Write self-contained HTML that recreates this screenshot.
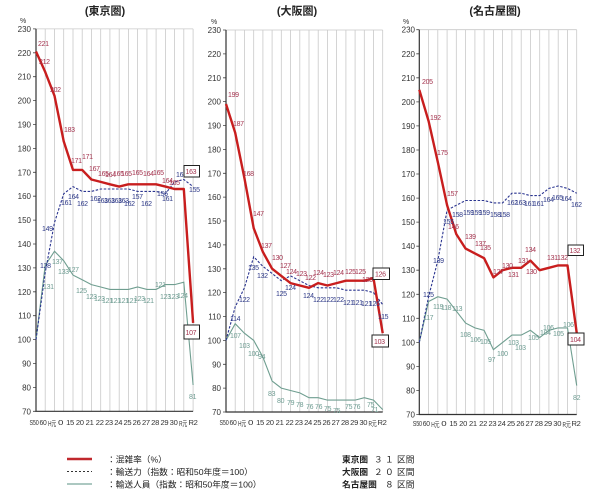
<!DOCTYPE html>
<html><head><meta charset="utf-8">
<style>
html,body{margin:0;padding:0;background:#fff;}
svg{display:block;}
text{font-family:"Liberation Sans","Noto Sans CJK JP",sans-serif;}
.yt{font-size:8px;fill:#333;text-anchor:end;}
.xt{font-size:7.6px;fill:#333;text-anchor:middle;letter-spacing:-0.3px;}
.g{stroke:#c9c9c9;stroke-width:0.8;fill:none;}
.ax{stroke:#333;stroke-width:1.2;fill:none;}
.tk{stroke:#444;stroke-width:0.8;fill:none;}
.r{stroke:#c81e1e;stroke-width:2.4;fill:none;stroke-linejoin:round;}
.b{stroke:#2b3590;stroke-width:1.1;fill:none;stroke-dasharray:2.5 1.6;}
.gr{stroke:#6f9e90;stroke-width:1.1;fill:none;}
.lr{font-size:7px;fill:#a4344f;letter-spacing:-0.3px;}
.lb{font-size:7px;fill:#2e3a88;letter-spacing:-0.3px;}
.lg{font-size:7px;fill:#6e9c92;letter-spacing:-0.3px;}
.bx{fill:#fff;stroke:#222;stroke-width:1;}
.tt{font-size:11px;fill:#222;text-anchor:middle;font-weight:bold;}
.lt{font-size:8.7px;fill:#222;}
.pc{font-size:7px;fill:#333;}
</style></head><body>
<svg width="600" height="494" viewBox="0 0 600 494" xmlns="http://www.w3.org/2000/svg">
<rect x="0" y="0" width="600" height="494" fill="#fff"/>

<!-- Titles -->
<text class="tt" x="105" y="14.7">(東京圏)</text>
<text class="tt" x="297" y="14.7">(大阪圏)</text>
<text class="tt" x="495" y="14.7">(名古屋圏)</text>

<!-- ===== Tokyo ===== -->
<path class="g" d="M45.2 28.9V411.3M54.5 28.9V411.3M63.7 28.9V411.3M73 28.9V411.3M82.2 28.9V411.3M91.4 28.9V411.3M100.7 28.9V411.3M109.9 28.9V411.3M119.2 28.9V411.3M128.4 28.9V411.3M137.6 28.9V411.3M146.9 28.9V411.3M156.1 28.9V411.3M165.4 28.9V411.3M174.6 28.9V411.3M183.8 28.9V411.3M193.1 28.9V411.3M36 28.9H193.1"/>
<path class="tk" d="M33 411.3H36M33 387.4H36M33 363.5H36M33 339.6H36M33 315.7H36M33 291.8H36M33 267.9H36M33 244H36M33 220.1H36M33 196.2H36M33 172.3H36M33 148.4H36M33 124.5H36M33 100.6H36M33 76.7H36M33 52.8H36M33 28.9H36"/>
<path class="ax" d="M36 28.9V411.3H193.1"/>
<text class="pc" x="20" y="23">%</text>
<text class="yt" x="31" y="414.3">70</text>
<text class="yt" x="31" y="390.4">80</text>
<text class="yt" x="31" y="366.5">90</text>
<text class="yt" x="31" y="342.6">100</text>
<text class="yt" x="31" y="318.7">110</text>
<text class="yt" x="31" y="294.8">120</text>
<text class="yt" x="31" y="270.9">130</text>
<text class="yt" x="31" y="247">140</text>
<text class="yt" x="31" y="223.1">150</text>
<text class="yt" x="31" y="199.2">160</text>
<text class="yt" x="31" y="175.3">170</text>
<text class="yt" x="31" y="151.4">180</text>
<text class="yt" x="31" y="127.5">190</text>
<text class="yt" x="31" y="103.6">200</text>
<text class="yt" x="31" y="79.7">210</text>
<text class="yt" x="31" y="55.8">220</text>
<text class="yt" x="31" y="31.9">230</text>

<polyline class="gr" points="36,339.6 45.2,265.5 54.5,251.2 63.7,260.7 73,275.1 82.2,279.8 91.4,284.6 100.7,287 109.9,289.4 119.2,289.4 128.4,289.4 137.6,287 146.9,289.4 156.1,289.4 165.4,284.6 174.6,284.6 183.8,282.2 193.1,385"/>
<polyline class="b" points="36,339.6 45.2,272.7 54.5,222.5 63.7,193.8 73,186.6 82.2,191.4 91.4,191.4 100.7,189 109.9,189 119.2,189 128.4,189 137.6,191.4 146.9,191.4 156.1,191.4 165.4,193.8 174.6,181.9 183.8,179.5 193.1,186.6"/>
<polyline class="r" points="36,51.5 45.2,71.9 54.5,95.8 63.7,141.2 73,169.9 82.2,169.9 91.4,179.5 100.7,181.9 109.9,184.3 119.2,186.6 128.4,184.3 137.6,184.3 146.9,184.3 156.1,184.3 165.4,186.6 174.6,189 183.8,189 193.1,322.9"/>

<g class="lr">
<text x="38" y="46">221</text><text x="39" y="64">212</text><text x="50" y="92">202</text><text x="64" y="132">183</text>
<text x="71" y="163">171</text><text x="82" y="159">171</text><text x="89" y="171">167</text><text x="98" y="176">165</text>
<text x="105" y="177">164</text><text x="113" y="176">165</text><text x="121" y="176">165</text><text x="132" y="175">165</text>
<text x="143" y="176">164</text><text x="153" y="175">165</text><text x="162" y="183">164</text><text x="169" y="185">165</text>
</g>
<g class="lb">
<text x="42" y="231">149</text><text x="40" y="268">128</text><text x="61" y="205">161</text><text x="68" y="199">164</text>
<text x="77" y="206">162</text><text x="90" y="201">162</text><text x="97" y="203">163</text><text x="104" y="203">163</text>
<text x="111" y="203">163</text><text x="118" y="203">163</text><text x="124" y="206">162</text><text x="132" y="199">157</text>
<text x="141" y="206">162</text><text x="157" y="196">156</text><text x="162" y="201">161</text><text x="176" y="177">167</text>
<text x="189" y="192">155</text>
</g>
<g class="lg">
<text x="43" y="289">131</text><text x="52" y="264">137</text><text x="58" y="274">133</text><text x="68" y="272">127</text>
<text x="76" y="293">125</text><text x="86" y="299">123</text><text x="94" y="301">123</text><text x="102" y="303">121</text>
<text x="110" y="303">121</text><text x="118" y="303">121</text><text x="126" y="303">121</text><text x="134" y="301">123</text>
<text x="143" y="303">121</text><text x="155" y="287">121</text><text x="160" y="299">123</text><text x="168" y="299">123</text>
<text x="177" y="298">124</text><text x="189" y="399">81</text>
</g>
<rect class="bx" x="184" y="165.5" width="15.5" height="11.5"/>
<text class="lr" x="185.5" y="174">163</text>
<rect class="bx" x="184" y="325" width="15.5" height="14"/>
<text class="lr" x="185.5" y="335">107</text>

<g class="xt">
<text x="34" y="425" textLength="9" lengthAdjust="spacingAndGlyphs">S50</text>
<text x="43" y="425" textLength="7" lengthAdjust="spacingAndGlyphs">60</text>
<text x="52" y="426" textLength="8" lengthAdjust="spacingAndGlyphs">H元</text>
<text x="60.5" y="425" textLength="5" lengthAdjust="spacingAndGlyphs">0</text>
<text x="70" y="425">15</text><text x="79.8" y="425">20</text><text x="89.6" y="425">21</text>
<text x="99.7" y="425">22</text><text x="108.9" y="425">23</text><text x="118.2" y="425">24</text>
<text x="127.4" y="425">25</text><text x="136.6" y="425">26</text><text x="145.9" y="425">27</text>
<text x="155.1" y="425">28</text><text x="164.4" y="425">29</text><text x="173.6" y="425">30</text>
<text x="183" y="426" textLength="8" lengthAdjust="spacingAndGlyphs">R元</text>
<text x="193" y="425">R2</text>
</g>

<!-- ===== Osaka ===== -->
<path class="g" d="M235.2 30V412M244.4 30V412M253.7 30V412M262.9 30V412M272.1 30V412M281.3 30V412M290.5 30V412M299.8 30V412M309 30V412M318.2 30V412M327.4 30V412M336.6 30V412M345.9 30V412M355.1 30V412M364.3 30V412M373.5 30V412M382.7 30V412M226 30H382.7"/>
<path class="tk" d="M223 412H226M223 388.1H226M223 364.3H226M223 340.4H226M223 316.5H226M223 292.6H226M223 268.8H226M223 244.9H226M223 221H226M223 197.1H226M223 173.3H226M223 149.4H226M223 125.5H226M223 101.6H226M223 77.8H226M223 53.9H226M223 30H226"/>
<path class="ax" d="M226 30V412H382.7"/>
<text class="pc" x="211" y="24">%</text>
<text class="yt" x="221" y="415">70</text>
<text class="yt" x="221" y="391.1">80</text>
<text class="yt" x="221" y="367.3">90</text>
<text class="yt" x="221" y="343.4">100</text>
<text class="yt" x="221" y="319.5">110</text>
<text class="yt" x="221" y="295.6">120</text>
<text class="yt" x="221" y="271.8">130</text>
<text class="yt" x="221" y="247.9">140</text>
<text class="yt" x="221" y="224">150</text>
<text class="yt" x="221" y="200.1">160</text>
<text class="yt" x="221" y="176.3">170</text>
<text class="yt" x="221" y="152.4">180</text>
<text class="yt" x="221" y="128.5">190</text>
<text class="yt" x="221" y="104.6">200</text>
<text class="yt" x="221" y="80.8">210</text>
<text class="yt" x="221" y="56.9">220</text>
<text class="yt" x="221" y="33">230</text>

<polyline class="gr" points="226,340.4 235.2,323.7 244.4,333.2 253.7,340.4 262.9,357.1 272.1,381 281.3,388.1 290.5,390.5 299.8,392.9 309,397.7 318.2,397.7 327.4,400.1 336.6,400.1 345.9,400.1 355.1,400.1 364.3,397.7 373.5,400.1 382.7,409.6"/>
<polyline class="b" points="226,340.4 235.2,306.9 244.4,287.8 253.7,256.8 262.9,266.4 272.1,273.5 281.3,280.7 290.5,275.9 299.8,280.7 309,285.5 318.2,287.8 327.4,287.8 336.6,287.8 345.9,290.2 355.1,290.2 364.3,290.2 373.5,292.6 382.7,304.6"/>
<polyline class="r" points="226,104 235.2,132.7 244.4,178 253.7,228.2 262.9,252 272.1,268.7 281.3,275.9 290.5,283.1 299.8,285.5 309,287.8 318.2,283.1 327.4,285.5 336.6,283.1 345.9,280.7 355.1,280.7 364.3,280.7 373.5,278.3 382.7,333.2"/>

<g class="lr">
<text x="228" y="97">199</text><text x="233" y="126">187</text><text x="243" y="176">168</text><text x="253" y="216">147</text>
<text x="261" y="248">137</text><text x="272" y="260">130</text><text x="280" y="268">127</text><text x="286" y="274">124</text>
<text x="296" y="276">123</text><text x="305" y="280">122</text><text x="313" y="275">124</text><text x="323" y="277">123</text>
<text x="333" y="275">124</text><text x="345" y="274">125</text><text x="355" y="274">125</text><text x="362" y="282">125</text>
</g>
<g class="lb">
<text x="230" y="321">114</text><text x="239" y="302">122</text><text x="248" y="270">135</text><text x="257" y="278">132</text>
<text x="276" y="296">125</text><text x="285" y="290">124</text><text x="303" y="298">124</text><text x="313" y="302">122</text>
<text x="323" y="302">122</text><text x="333" y="302">122</text><text x="343" y="305">121</text><text x="352" y="305">121</text>
<text x="361" y="306">121</text><text x="369" y="306">126</text><text x="378" y="319">115</text>
</g>
<g class="lg">
<text x="230" y="338">107</text><text x="239" y="348">103</text><text x="248" y="356">100</text><text x="258" y="359">94</text>
<text x="268" y="396">83</text><text x="277" y="403">80</text><text x="287" y="405">79</text><text x="296" y="407">78</text>
<text x="306" y="409">76</text><text x="315" y="409">76</text><text x="324" y="411">75</text><text x="333" y="413">75</text>
<text x="345" y="409">75</text><text x="353" y="409">76</text><text x="367" y="407">75</text><text x="371" y="412">71</text>
</g>
<rect class="bx" x="373" y="268" width="16.5" height="11.5"/>
<text class="lr" x="375" y="276.5">126</text>
<rect class="bx" x="372" y="335" width="16.5" height="12"/>
<text class="lr" x="374" y="344">103</text>

<g class="xt">
<text x="224" y="425" textLength="9" lengthAdjust="spacingAndGlyphs">S50</text>
<text x="233" y="425" textLength="7" lengthAdjust="spacingAndGlyphs">60</text>
<text x="242" y="426" textLength="8" lengthAdjust="spacingAndGlyphs">H元</text>
<text x="250.5" y="425" textLength="5" lengthAdjust="spacingAndGlyphs">0</text>
<text x="260" y="425">15</text><text x="269.8" y="425">20</text><text x="279.6" y="425">21</text>
<text x="289.5" y="425">22</text><text x="298.8" y="425">23</text><text x="308" y="425">24</text>
<text x="317.2" y="425">25</text><text x="326.4" y="425">26</text><text x="335.6" y="425">27</text>
<text x="344.9" y="425">28</text><text x="354.1" y="425">29</text><text x="363.3" y="425">30</text>
<text x="372.5" y="426" textLength="8" lengthAdjust="spacingAndGlyphs">R元</text>
<text x="382" y="425">R2</text>
</g>

<!-- ===== Nagoya ===== -->
<path class="g" d="M428.6 29.7V414.5M437.8 29.7V414.5M447.1 29.7V414.5M456.3 29.7V414.5M465.6 29.7V414.5M474.9 29.7V414.5M484.1 29.7V414.5M493.4 29.7V414.5M502.6 29.7V414.5M511.9 29.7V414.5M521.2 29.7V414.5M530.4 29.7V414.5M539.7 29.7V414.5M548.9 29.7V414.5M558.2 29.7V414.5M567.5 29.7V414.5M576.7 29.7V414.5M419.3 29.7H576.7"/>
<path class="tk" d="M416.3 414.5H419.3M416.3 390.5H419.3M416.3 366.4H419.3M416.3 342.4H419.3M416.3 318.3H419.3M416.3 294.3H419.3M416.3 270.2H419.3M416.3 246.2H419.3M416.3 222.1H419.3M416.3 198.1H419.3M416.3 174H419.3M416.3 150H419.3M416.3 125.9H419.3M416.3 101.9H419.3M416.3 77.8H419.3M416.3 53.8H419.3M416.3 29.7H419.3"/>
<path class="ax" d="M419.3 29.7V414.5H576.7"/>
<text class="pc" x="403" y="24">%</text>
<text class="yt" x="415" y="417.5">70</text>
<text class="yt" x="415" y="393.5">80</text>
<text class="yt" x="415" y="369.4">90</text>
<text class="yt" x="415" y="345.4">100</text>
<text class="yt" x="415" y="321.3">110</text>
<text class="yt" x="415" y="297.3">120</text>
<text class="yt" x="415" y="273.2">130</text>
<text class="yt" x="415" y="249.2">140</text>
<text class="yt" x="415" y="225.1">150</text>
<text class="yt" x="415" y="201.1">160</text>
<text class="yt" x="415" y="177">170</text>
<text class="yt" x="415" y="153">180</text>
<text class="yt" x="415" y="128.9">190</text>
<text class="yt" x="415" y="104.9">200</text>
<text class="yt" x="415" y="80.8">210</text>
<text class="yt" x="415" y="56.8">220</text>
<text class="yt" x="415" y="32.7">230</text>

<polyline class="gr" points="419.3,342.4 428.6,301.5 437.8,296.7 447.1,299.1 456.3,311.1 465.6,323.1 474.9,327.9 484.1,330.3 493.4,349.6 502.6,342.4 511.9,335.1 521.2,335.1 530.4,330.3 539.7,337.5 548.9,330.3 558.2,327.9 567.5,327.9 576.7,385.6"/>
<polyline class="b" points="419.3,342.4 428.6,296.7 437.8,260.6 447.1,210.1 456.3,205.3 465.6,200.5 474.9,200.5 484.1,200.5 493.4,202.9 502.6,202.9 511.9,193.2 521.2,193.2 530.4,195.6 539.7,195.6 548.9,188.4 558.2,186 567.5,188.4 576.7,193.2"/>
<polyline class="r" points="419.3,89.8 428.6,121.1 437.8,162 447.1,205.3 456.3,234.1 465.6,248.6 474.9,253.4 484.1,258.2 493.4,277.4 502.6,270.2 511.9,267.8 521.2,267.8 530.4,260.6 539.7,270.2 548.9,267.8 558.2,265.4 567.5,265.4 576.7,332.7"/>

<g class="lr">
<text x="422" y="84">205</text><text x="430" y="120">192</text><text x="437" y="155">175</text><text x="447" y="196">157</text>
<text x="448" y="229">146</text><text x="465" y="239">139</text><text x="475" y="246">137</text><text x="480" y="250">135</text>
<text x="493" y="274">127</text><text x="502" y="268">130</text><text x="508" y="277">131</text><text x="518" y="263">131</text>
<text x="525" y="252">134</text><text x="526" y="274">130</text><text x="547" y="260">131</text><text x="557" y="260">132</text>
</g>
<g class="lb">
<text x="423" y="297">125</text><text x="433" y="263">139</text><text x="443" y="224">155</text><text x="452" y="217">158</text>
<text x="463" y="215">159</text><text x="471" y="215">159</text><text x="479" y="215">159</text><text x="490" y="217">158</text>
<text x="499" y="217">158</text><text x="507" y="205">162</text><text x="515" y="205">163</text><text x="524" y="206">161</text>
<text x="533" y="206">161</text><text x="543" y="202">164</text><text x="552" y="200">165</text><text x="561" y="201">164</text>
<text x="571" y="207">162</text>
</g>
<g class="lg">
<text x="423" y="320">117</text><text x="433" y="309">119</text><text x="441" y="310">118</text><text x="452" y="311">113</text>
<text x="460" y="337">108</text><text x="470" y="342">106</text><text x="480" y="344">105</text><text x="488" y="362">97</text>
<text x="497" y="356">100</text><text x="508" y="345">103</text><text x="515" y="350">103</text><text x="528" y="340">105</text>
<text x="540" y="335">104</text><text x="543" y="330">106</text><text x="553" y="336">105</text><text x="563" y="327">106</text>
<text x="573" y="400">82</text>
</g>
<rect class="bx" x="568" y="245" width="15.5" height="10.5"/>
<text class="lr" x="569.5" y="253">132</text>
<rect class="bx" x="568" y="333" width="16" height="12"/>
<text class="lr" x="570" y="342">104</text>

<g class="xt">
<text x="417.3" y="426" textLength="9" lengthAdjust="spacingAndGlyphs">S50</text>
<text x="426.3" y="426" textLength="7" lengthAdjust="spacingAndGlyphs">60</text>
<text x="435.3" y="427" textLength="8" lengthAdjust="spacingAndGlyphs">H元</text>
<text x="443.8" y="426" textLength="5" lengthAdjust="spacingAndGlyphs">0</text>
<text x="453.3" y="426">15</text><text x="463.1" y="426">20</text><text x="472.9" y="426">21</text>
<text x="483.1" y="426">22</text><text x="492.4" y="426">23</text><text x="501.6" y="426">24</text>
<text x="510.9" y="426">25</text><text x="520.2" y="426">26</text><text x="529.4" y="426">27</text>
<text x="538.7" y="426">28</text><text x="547.9" y="426">29</text><text x="557.2" y="426">30</text>
<text x="566.5" y="427" textLength="8" lengthAdjust="spacingAndGlyphs">R元</text>
<text x="576" y="426">R2</text>
</g>

<!-- ===== Legend ===== -->
<line x1="67" y1="459" x2="92" y2="459" stroke="#c0282d" stroke-width="2.5"/>
<line x1="67" y1="471.5" x2="92" y2="471.5" stroke="#333" stroke-width="1" stroke-dasharray="2 2"/>
<line x1="67" y1="484" x2="92" y2="484" stroke="#7aa89c" stroke-width="1.2"/>
<text class="lt" x="107" y="462.5">：混雑率（%）</text>
<text class="lt" x="107" y="475">：輸送力（指数：昭和50年度＝100）</text>
<text class="lt" x="107" y="487.5">：輸送人員（指数：昭和50年度＝100）</text>

<text class="lt" x="342" y="462.5" font-weight="bold">東京圏</text>
<text class="lt" x="374" y="462.5">３</text>
<text class="lt" x="385" y="462.5">１</text>
<text class="lt" x="397" y="462.5">区間</text>
<text class="lt" x="342" y="475" font-weight="bold">大阪圏</text>
<text class="lt" x="374" y="475">２</text>
<text class="lt" x="385" y="475">０</text>
<text class="lt" x="397" y="475">区間</text>
<text class="lt" x="342" y="487.5" font-weight="bold">名古屋圏</text>
<text class="lt" x="385" y="487.5">８</text>
<text class="lt" x="397" y="487.5">区間</text>
</svg>
</body></html>
